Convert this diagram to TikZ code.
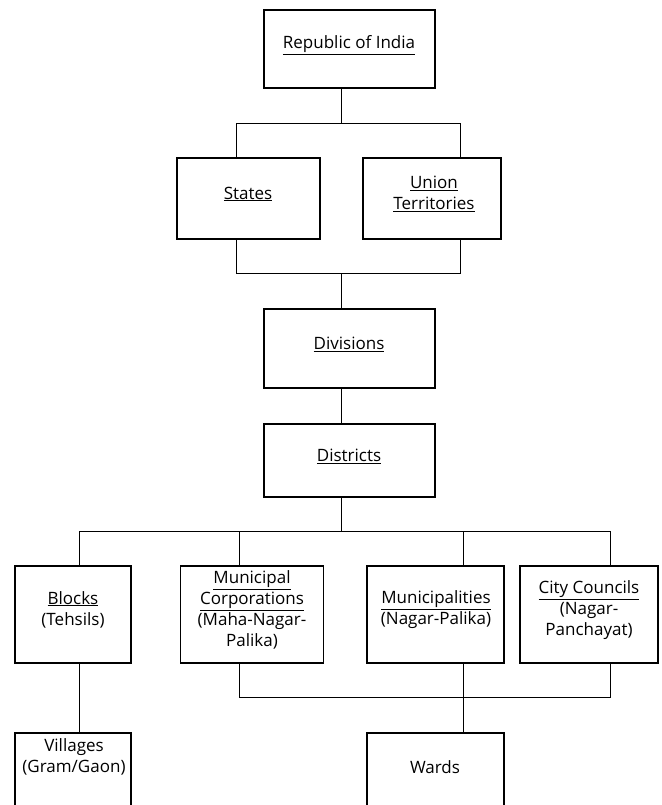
\documentclass[tikz,border=0pt]{standalone}
\usepackage{fontspec}
\setmainfont{Open Sans}
\begin{document}
\begin{tikzpicture}[x=1pt, y=-1pt,
  unit box/.style={draw, line width=1.8pt, inner sep=0pt},
  unit label/.style={align=center, font=\fontsize{17}{21}\selectfont, inner sep=0pt},
  link/.style={line width=0.9pt}]
  \clip (0,0) rectangle (661,805);
  \fill[white] (0,0) rectangle (661,805);

  % boxes
  \node[unit box, minimum width=171, minimum height=78] (india) at (349.5,49) {};
  \node[unit box, minimum width=143, minimum height=81] (states) at (248.5,198.5) {};
  \node[unit box, minimum width=138, minimum height=81] (ut) at (432,198.5) {};
  \node[unit box, minimum width=171, minimum height=79] (div) at (349.5,348.5) {};
  \node[unit box, minimum width=171, minimum height=73] (dist) at (349.5,460.5) {};
  \node[unit box, minimum width=116, minimum height=97] (blocks) at (73,614.5) {};
  \node[unit box, minimum width=143, minimum height=97] (corp) at (252,614.5) {};
  \node[unit box, minimum width=137, minimum height=97] (muni) at (435.5,614.5) {};
  \node[unit box, minimum width=138, minimum height=97] (city) at (589,614.5) {};
  \node[unit box, minimum width=116, minimum height=107] (vill) at (73,786.5) {};
  \node[unit box, minimum width=137, minimum height=107] (wards) at (435.5,786.5) {};

  % texts
  \node[unit label] (india-t) at (349,45) {\underline{Republic of India}};
  \node[unit label] (states-t) at (248,194) {\underline{States}};
  \node[unit label] (ut-t) at (434,194) {\underline{Union}\\\underline{Territories}};
  \node[unit label] (div-t) at (349,344) {\underline{Divisions}};
  \node[unit label] (dist-t) at (349,456) {\underline{Districts}};
  \node[unit label] (blocks-t) at (73,609.5) {\underline{Blocks}\\(Tehsils)};
  \node[unit label] (corp-t) at (252,610) {\underline{Municipal}\\\underline{Corporations}\\(Maha-Nagar-\\Palika)};
  \node[unit label] (muni-t) at (436,609.5) {\underline{Municipalities}\\(Nagar-Palika)};
  \node[unit label] (city-t) at (589,610) {\underline{City Councils}\\(Nagar-\\Panchayat)};
  \node[unit label] (vill-t) at (74,757) {Villages\\(Gram/Gaon)};
  \node[unit label] (wards-t) at (435,767) {Wards};

  % junctions
  \coordinate (j1) at (341,123);
  \coordinate (j1l) at (236,123);
  \coordinate (j1r) at (460,123);
  \coordinate (j2) at (341,273);
  \coordinate (j2l) at (236,273);
  \coordinate (j2r) at (460,273);
  \coordinate (j3) at (341,531);
  \coordinate (j3a) at (79,531);
  \coordinate (j3b) at (239,531);
  \coordinate (j3c) at (463,531);
  \coordinate (j3d) at (610,531);
  \coordinate (j4b) at (239,697);
  \coordinate (j4c) at (463,697);
  \coordinate (j4d) at (610,697);

  % connectors
  \draw[link] (india.south -| j1) -- (j1);
  \draw[link] (states.north -| j1l) |- (j1r) -- (ut.north -| j1r);
  \draw[link] (states.south -| j2l) |- (j2r) -- (ut.south -| j2r);
  \draw[link] (j2) -- (div.north -| j2);
  \draw[link] (div.south -| j2) -- (dist.north -| j2);
  \draw[link] (dist.south -| j3) -- (j3);
  \draw[link] (blocks.north -| j3a) |- (j3d) -- (city.north -| j3d);
  \draw[link] (corp.north -| j3b) -- (j3b);
  \draw[link] (muni.north -| j3c) -- (j3c);
  \draw[link] (blocks.south -| j3a) -- (vill.north -| j3a);
  \draw[link] (corp.south -| j4b) |- (j4d) -- (city.south -| j4d);
  \draw[link] (muni.south -| j4c) -- (wards.north -| j4c);
\end{tikzpicture}
\end{document}
